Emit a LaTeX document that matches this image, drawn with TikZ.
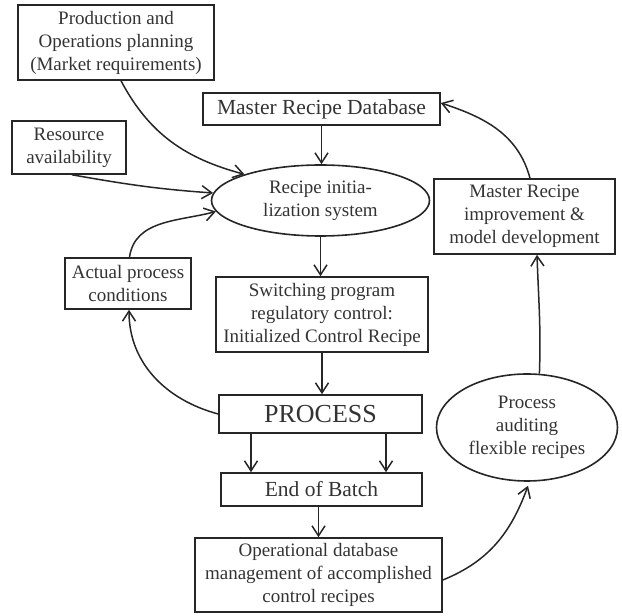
\documentclass[tikz,border=0pt]{standalone}
\usepackage{fontspec}
\setmainfont{Liberation Serif}
\usetikzlibrary{shapes.geometric,arrows.meta}
\begin{document}
\begin{tikzpicture}[x=1pt,y=1pt,
  box/.style={draw=black!85, text=black!80, line width=1.6pt, rectangle, inner sep=0pt, align=center, font=\fontsize{19}{23}\selectfont},
  oval/.style={draw=black!85, text=black!80, line width=1.6pt, ellipse, inner sep=0pt, align=center, font=\fontsize{19}{23}\selectfont},
  arr/.style={draw=black!85, line width=1.5pt, -{Straight Barb[length=10pt,width=13pt]}}]
\useasboundingbox (0,0) rectangle (622,616);

\node[box, minimum width=196, minimum height=75] (prod) at (116,573.5) {Production and\\Operations planning\\(Market requirements)};
\node[box, minimum width=114, minimum height=53] (res) at (69,468.5) {Resource\\availability};
\node[box, minimum width=237, minimum height=32, font=\fontsize{21.5}{25}\selectfont] (mrd) at (321.5,507) {Master Recipe Database};
\node[oval, minimum width=218, minimum height=71] (init) at (320.5,415.5) {Recipe initia-\\lization system};
\node[box, minimum width=181, minimum height=75] (mri) at (524.5,399.5) {Master Recipe\\improvement \&\\model development};
\node[box, minimum width=126, minimum height=51] (apc) at (128,332.5) {Actual process\\conditions};
\node[box, minimum width=212, minimum height=75] (sw) at (322,301.5) {Switching program\\regulatory control:\\Initialized Control Recipe};
\node[box, minimum width=203, minimum height=38, font=\fontsize{26}{30}\selectfont] (proc) at (320.5,202) {PROCESS};
\node[box, minimum width=201, minimum height=33, font=\fontsize{21.5}{25}\selectfont] (eob) at (321.5,126.5) {End of Batch};
\node[box, minimum width=247, minimum height=74] (op) at (318.5,41) {Operational database\\management of accomplished\\control recipes};
\node[oval, minimum width=181, minimum height=107] (pa) at (527,188.5) {Process\\auditing\\flexible recipes};

\draw[arr] ([xshift=5pt]prod.south) to[out=-62,in=165] (init.161);
\draw[arr] ([xshift=3pt]res.south) to[out=-10,in=176] (init.176);
\draw[arr] ([xshift=1.5pt]apc.north) to[out=82,in=195] (init.186);
\draw[arr] (proc.west) to[out=165,in=-90] ([xshift=1pt]apc.south);
\draw[arr] (mrd.south) -- (mrd.south |- init.north);
\draw[arr] (init.south) -- (init.south |- sw.north);
\draw[arr] (sw.south) -- (sw.south |- proc.north);
\draw[arr] ([xshift=-69.5pt]proc.south) -- ([xshift=-69.5pt]proc.south |- eob.north);
\draw[arr] ([xshift=65.5pt]proc.south) -- ([xshift=65.5pt]proc.south |- eob.north);
\draw[arr] (op.north |- eob.south) -- (op.north);
\draw[arr] ([yshift=-5pt]op.east) to[out=22,in=250] ([shift={(1pt,-4pt)}]pa.south);
\draw[arr] (pa.77) to[out=88,in=-88] ([xshift=12.5pt]mri.south);
\draw[arr] ([xshift=5.5pt]mri.north) to[out=105,in=-18] ([yshift=6pt]mrd.east);
\end{tikzpicture}
\end{document}
